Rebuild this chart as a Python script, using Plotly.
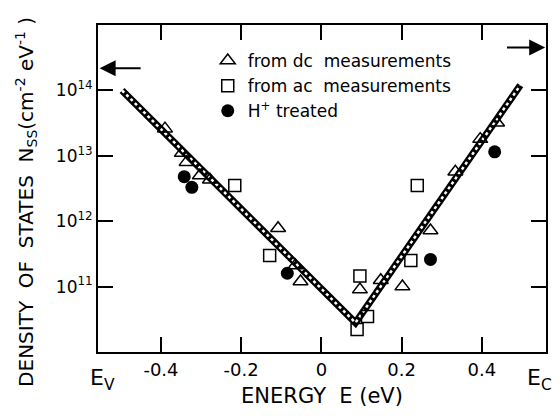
import plotly.graph_objects as go

# ---- data ----
dc_E = [-0.390, -0.348, -0.336, -0.303, -0.278, -0.108, -0.065, -0.052, 0.096, 0.148, 0.202, 0.272, 0.334, 0.396, 0.438]
dc_N = [2.6e13, 1.1e13, 8.0e12, 5.0e12, 4.3e12, 7.8e11, 2.1e11, 1.2e11, 9.0e10, 1.25e11, 1.0e11, 7.2e11, 5.7e12, 1.8e13, 3.2e13]

ac_E = [-0.216, -0.129, 0.089, 0.096, 0.115, 0.223, 0.239]
ac_N = [3.5e12, 3.0e11, 2.2e10, 1.45e11, 3.5e10, 2.5e11, 3.5e12]

h_E = [-0.342, -0.323, -0.085, 0.272, 0.432]
h_N = [4.8e12, 3.3e12, 1.6e11, 2.6e11, 1.15e13]

fit_E = [-0.497, 0.085, 0.496]
fit_N = [1.0e14, 2.8e10, 1.2e14]

x_ticks = [-0.4, -0.2, 0, 0.2, 0.4]
x_ticktext = ["-0.4", "-0.2", "0", "0.2", "0.4"]
y_ticks = [1e11, 1e12, 1e13, 1e14]
y_ticktext = ["10<sup>11</sup>", "10<sup>12</sup>", "10<sup>13</sup>", "10<sup>14</sup>"]

FONT = "DejaVu Sans"

fig = go.Figure()

# hatched band: black thick line with a white dashed core
fig.add_trace(go.Scatter(x=fit_E, y=fit_N, mode="lines",
                         line=dict(color="black", width=7),
                         showlegend=False, hoverinfo="skip"))
fig.add_trace(go.Scatter(x=fit_E, y=fit_N, mode="lines",
                         line=dict(color="white", width=2.5, dash="3px,3px"),
                         showlegend=False, hoverinfo="skip"))

fig.add_trace(go.Scatter(x=dc_E, y=dc_N, mode="markers", name="from dc  measurements",
                         marker=dict(symbol="triangle-up-open", size=13, color="black",
                                     line=dict(width=1.5, color="black"))))
fig.add_trace(go.Scatter(x=ac_E, y=ac_N, mode="markers", name="from ac  measurements",
                         marker=dict(symbol="square-open", size=12, color="black",
                                     line=dict(width=1.5, color="black"))))
fig.add_trace(go.Scatter(x=h_E, y=h_N, mode="markers", name="H<sup>+</sup> treated",
                         marker=dict(symbol="circle", size=13, color="black")))

axis_common = dict(showline=True, linecolor="black", linewidth=2, mirror="ticks",
                   ticks="inside", ticklen=15, tickwidth=2, tickcolor="black",
                   showgrid=False, zeroline=False)

fig.update_xaxes(range=[-0.557, 0.56], tickvals=x_ticks, ticktext=x_ticktext,
                 tickfont=dict(family=FONT, size=18, color="black"),
                 title=dict(text="ENERGY  E (eV)", font=dict(family=FONT, size=21, color="black"),
                            standoff=10),
                 **axis_common)
fig.update_yaxes(type="log", range=[10, 15], tickvals=y_ticks, ticktext=y_ticktext,
                 tickfont=dict(family=FONT, size=17, color="black"),
                 **axis_common)

annotations = [
    dict(text="DENSITY  OF  STATES  N<sub>SS</sub>(cm<sup>-2</sup> eV<sup>-1</sup> )",
         xref="paper", yref="paper", x=-0.16, y=0.46, textangle=-90,
         showarrow=False, font=dict(family=FONT, size=20, color="black"),
         xanchor="center", yanchor="middle"),
    dict(text="E<sub>V</sub>", xref="paper", yref="paper", x=0.0, y=-0.035,
         showarrow=False, font=dict(family=FONT, size=22, color="black"),
         xanchor="center", yanchor="top", xshift=4),
    dict(text="E<sub>C</sub>", xref="paper", yref="paper", x=1.0, y=-0.035,
         showarrow=False, font=dict(family=FONT, size=22, color="black"),
         xanchor="left", yanchor="top", xshift=-21),
    # arrows
    dict(x=-0.553, y=14.34, ax=-0.447, ay=14.34, xref="x", yref="y", axref="x", ayref="y",
         showarrow=True, arrowhead=2, arrowsize=1.6, arrowwidth=2, arrowcolor="black", text=""),
    dict(x=0.558, y=14.655, ax=0.459, ay=14.655, xref="x", yref="y", axref="x", ayref="y",
         showarrow=True, arrowhead=2, arrowsize=1.6, arrowwidth=2, arrowcolor="black", text=""),
]

fig.update_layout(
    width=552, height=408,
    margin=dict(l=90, r=12, t=17, b=59),
    paper_bgcolor="white", plot_bgcolor="white",
    font=dict(family=FONT, color="black"),
    annotations=annotations,
    legend=dict(x=0.245, y=0.945, xanchor="left", yanchor="top",
                font=dict(family=FONT, size=17, color="black"),
                bgcolor="rgba(0,0,0,0)", tracegroupgap=0, itemwidth=30),
)

fig.write_html("out.html")
